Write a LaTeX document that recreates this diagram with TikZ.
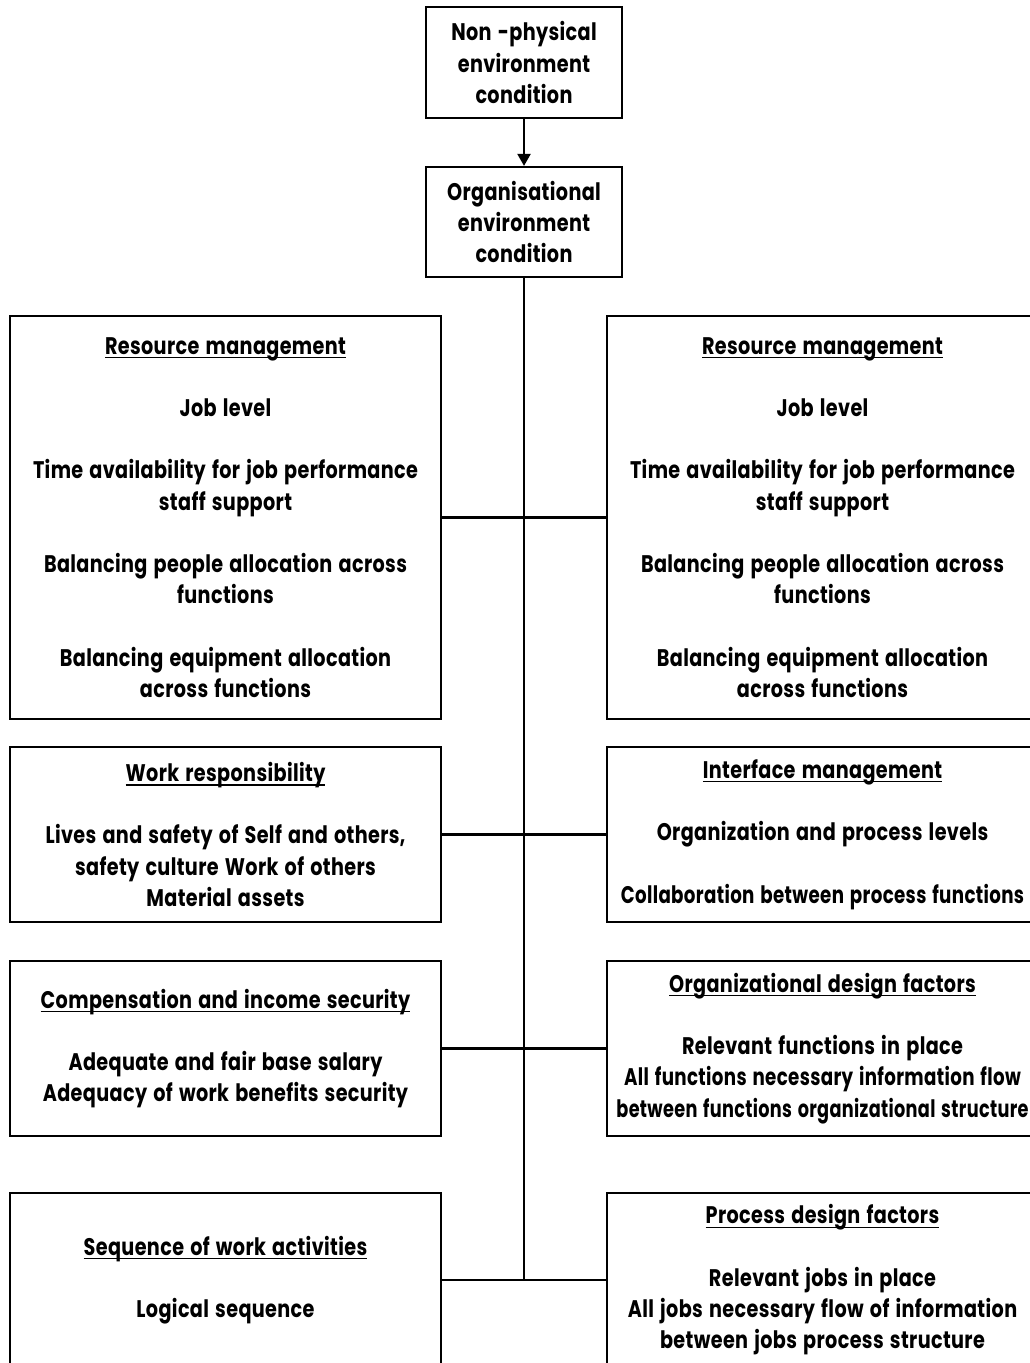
\documentclass[tikz,border=0pt]{standalone}
\usepackage{fontspec}
\setmainfont{Poppins}[FakeStretch=0.8, WordSpace=1.4, LetterSpace=1.5]
\usetikzlibrary{arrows.meta}
% underlined heading: rule a little below the baseline, as wide as the text
\newcommand{\hd}[1]{\setbox0\hbox{#1}\rlap{\rule[-4pt]{\wd0}{1.3pt}}\box0}
\newcommand{\gap}{\\[31pt]}
% a long line set a little narrower
\newcommand{\narrow}[2]{\scalebox{#1}[1]{#2}}
\tikzset{
  frame/.style={draw, line width=2.2pt, inner sep=0pt},
  txt/.style={inner sep=0pt, align=center,
    font=\fontsize{24}{31.3}\selectfont\bfseries},
  link/.style={line width=2.2pt},
}
\begin{document}
\begin{tikzpicture}[x=1pt, y=-1pt]
\clip (0,0) rectangle (1030,1363);
\useasboundingbox (0,0) rectangle (1030,1363);
% top chain
\node[frame, minimum width=196pt, minimum height=111pt] (np) at (524,62.5) {};
\node[txt] at (np) {Non -physical\\environment\\condition};
\node[frame, minimum width=196pt, minimum height=110pt] (org) at (524,222) {};
\node[txt] at (org) {Organisational\\environment\\condition};
\draw[link, -{Triangle[width=13pt,length=12pt]}] (np) -- (org);
% left column
\node[frame, minimum width=431pt, minimum height=403pt] (l1) at (225.5,517.5) {};
\node[txt] at (l1) {\hd{Resource management}\gap Job level\gap Time availability for job performance\\staff support\gap Balancing people allocation across\\functions\gap Balancing equipment allocation\\across functions};
\node[frame, minimum width=431pt, minimum height=175pt] (l2) at (225.5,834.5) {};
\node[txt] at (l2) {\hd{Work responsibility}\gap Lives and safety of Self and others,\\safety culture Work of others\\Material assets};
\node[frame, minimum width=431pt, minimum height=175pt] (l3) at (225.5,1048.5) {};
\node[txt] at (l3) {\hd{Compensation and income security}\gap Adequate and fair base salary\\Adequacy of work benefits security};
\node[frame, minimum width=431pt, minimum height=174pt] (l4) at (225.5,1280) {};
\node[txt] at (l4) {\hd{Sequence of work activities}\gap Logical sequence};
% right column
\node[frame, minimum width=431pt, minimum height=403pt] (r1) at (822.5,517.5) {};
\node[txt] at (r1) {\hd{Resource management}\gap Job level\gap Time availability for job performance\\staff support\gap Balancing people allocation across\\functions\gap Balancing equipment allocation\\across functions};
\node[frame, minimum width=431pt, minimum height=175pt] (r2) at (822.5,834.5) {};
\node[txt] at (r2) {\hd{Interface management}\gap Organization and process levels\gap \narrow{0.95}{Collaboration between process functions}};
\node[frame, minimum width=431pt, minimum height=175pt] (r3) at (822.5,1048.5) {};
\node[txt] at (r3) {\hd{Organizational design factors}\gap Relevant functions in place\\\narrow{0.95}{All functions necessary information flow}\\\narrow{0.92}{between functions organizational structure}};
\node[frame, minimum width=431pt, minimum height=174pt] (r4) at (822.5,1280) {};
\node[txt] at (r4) {\hd{Process design factors}\gap Relevant jobs in place\\All jobs necessary flow of information\\between jobs process structure};
% trunk and branches
\coordinate (end) at (org.south |- l4.east);
\draw[link] (org.south) -- (end);
\draw[link] (l1.east) -- (r1.west);
\draw[link] (l2.east) -- (r2.west);
\draw[link] (l3.east) -- (r3.west);
\draw[link] (l4.east) -- (r4.west);
\end{tikzpicture}
\end{document}
